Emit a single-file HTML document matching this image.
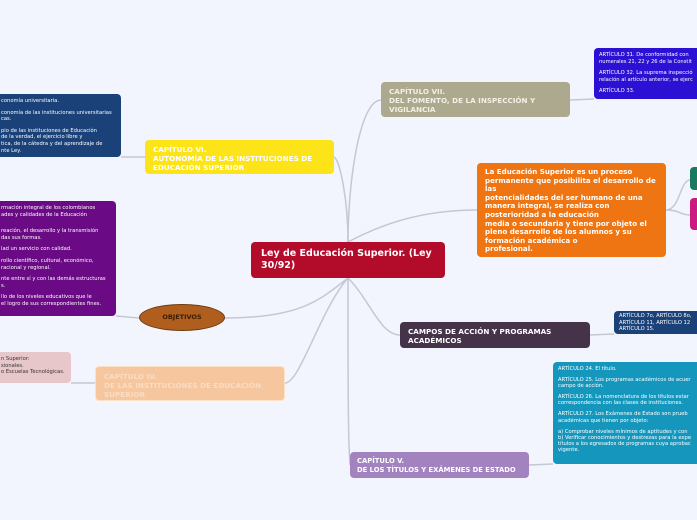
<!DOCTYPE html>
<html><head><meta charset="utf-8"><style>
body{margin:0;width:697px;height:520px;overflow:hidden;background:#f3f5fe;position:relative;font-family:"DejaVu Sans","Liberation Sans",sans-serif;}
.n{position:absolute;border-radius:4px;box-sizing:border-box;color:#fff;font-weight:bold;}
.s{font-size:5.2px;font-weight:normal;line-height:6.6px;padding:4px 5px;white-space:nowrap;overflow:hidden;}
.s p{margin:0 0 5px 0}
.t{font-size:7.2px;line-height:9px;padding:5px 8px;}
</style></head><body>
<svg width="697" height="520" style="position:absolute;left:0;top:0" fill="none" stroke="#c4c8d4" stroke-width="1.5">
<path d="M348 242 C348 180 360 100 381 100"/>
<path d="M348 242 C348 200 340 160 334 157"/>
<path d="M348 242 C380 225 420 210 477 210"/>
<path d="M348 278 C370 300 380 335 400 335"/>
<path d="M348 278 C348 380 348 440 350 465"/>
<path d="M348 278 C320 300 300 318 225 318"/>
<path d="M348 278 C320 310 300 383 285 383"/>
<path d="M121 157 L145 157"/>
<path d="M116 316 L139 318"/>
<path d="M71 383 L95 383"/>
<path d="M570 100 L594 99"/>
<path d="M666 210 C680 210 680 180 690 180"/>
<path d="M666 210 C680 210 680 215 690 215"/>
<path d="M590 335 L614 334"/>
<path d="M529 465 L553 464"/>
</svg>
<div class="n t" style="left:251px;top:242px;width:194px;height:36px;background:#b30c2b;font-size:9.5px;line-height:12px;padding:6px 10px">Ley de Educación Superior. (Ley 30/92)</div>
<div class="n t" style="left:145px;top:140px;width:189px;height:34px;background:#fde418;padding:5px 8px">CAPÍTULO VI.<br>AUTONOMÍA DE LAS INSTITUCIONES DE EDUCACIÓN SUPERIOR</div>
<div class="n s" style="left:-4px;top:94px;width:125px;height:63px;background:#1a4178"><p>conomía universitaria.</p><p>conomía de las instituciones universitarias<br>cas.</p><p style="margin:0">pio de las instituciones de Educación<br> de la verdad, el ejercicio libre y<br>tica, de la cátedra y del aprendizaje de<br>nte Ley.</p></div>
<div class="n s" style="left:-4px;top:201px;width:120px;height:115px;background:#6a0a84"><p>rmación integral de los colombianos<br>ades y calidades de la Educación</p><p style="margin-top:10px">reación, el desarrollo y la transmisión<br>das sus formas.</p><p>lad un servicio con calidad.</p><p>rollo científico, cultural, económico,<br>racional y regional.</p><p>nte entre sí y con las demás estructuras<br>s.</p><p>llo de los niveles educativos que le<br> el logro de sus correspondientes fines.</p></div>
<div style="position:absolute;left:139px;top:304px;width:86px;height:27px;border-radius:50%;background:#b05e1e;border:1px solid #6b3a12;box-sizing:border-box;color:#3a1d05;font-weight:bold;font-size:6.5px;text-align:center;line-height:25px">OBJETIVOS</div>
<div class="n s" style="left:-4px;top:352px;width:75px;height:31px;background:#e8c7cb;color:#333;padding-top:4px">n Superior:<br>sionales.<br>o Escuelas Tecnológicas.</div>
<div class="n t" style="left:95px;top:366px;width:190px;height:35px;background:#f6c79f;color:#fadcc2;border:1px solid #fde0c6">CAPÍTULO IV.<br>DE LAS INSTITUCIONES DE EDUCACIÓN SUPERIOR</div>
<div class="n t" style="left:381px;top:82px;width:189px;height:35px;background:#aca98e;color:#f2f0e4">CAPÍTULO VII.<br>DEL FOMENTO, DE LA INSPECCIÓN Y VIGILANCIA</div>
<div class="n s" style="left:594px;top:48px;width:110px;height:51px;background:#2c10d4"><p>ARTÍCULO 31. De conformidad con<br>numerales 21, 22 y 26 de la Constit</p><p>ARTÍCULO 32. La suprema inspecció<br>relación al artículo anterior, se ejerc</p><p>ARTÍCULO 33.</p></div>
<div class="n t" style="left:477px;top:163px;width:189px;height:94px;background:#ee7511;font-size:7.1px;line-height:8.6px;padding:5px 8px">La Educación Superior es un proceso permanente que posibilita el desarrollo de las<br>potencialidades del ser humano de una manera integral, se realiza con posterioridad a la educación<br>media o secundaria y tiene por objeto el pleno desarrollo de los alumnos y su formación académica o<br>profesional.</div>
<div class="n" style="left:690px;top:167px;width:20px;height:23px;background:#1b7a5e"></div>
<div class="n" style="left:690px;top:198px;width:20px;height:32px;background:#cb1a80"></div>
<div class="n t" style="left:400px;top:322px;width:190px;height:26px;background:#45334a;padding:5px 8px">CAMPOS DE ACCIÓN Y PROGRAMAS ACADÉMICOS</div>
<div class="n s" style="left:614px;top:311px;width:90px;height:23px;background:#1a4178;padding-top:2px">ARTÍCULO 7o, ARTÍCULO 8o,<br>ARTÍCULO 11, ARTÍCULO 12<br>ARTÍCULO 15.</div>
<div class="n t" style="left:350px;top:452px;width:179px;height:26px;background:#a283c0;padding:5px 7px;font-size:6.8px;white-space:nowrap">CAPÍTULO V.<br>DE LOS TÍTULOS Y EXÁMENES DE ESTADO</div>
<div class="n s" style="left:553px;top:362px;width:150px;height:102px;background:#1597bd;line-height:6.1px"><p>ARTÍCULO 24. El título.</p><p>ARTÍCULO 25. Los programas académicos de acuer<br>campo de acción.</p><p>ARTÍCULO 26. La nomenclatura de los títulos estar<br>correspondencia con las clases de instituciones.</p><p>ARTÍCULO 27. Los Exámenes de Estado son prueb<br>académicas que tienen por objeto:</p><p style="margin:0"> a) Comprobar niveles mínimos de aptitudes y con<br>b) Verificar conocimientos y destrezas para la expe<br>títulos a los egresados de programas cuya aprobac<br>vigente.</p></div>
</body></html>
